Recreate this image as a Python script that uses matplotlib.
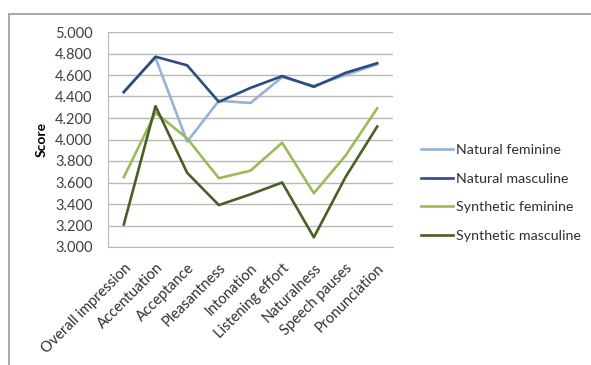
import matplotlib.pyplot as plt
from matplotlib.patches import Rectangle

categories = ['Overall impression', 'Accentuation', 'Acceptance', 'Pleasantness',
              'Intonation', 'Listening effort', 'Naturalness', 'Speech pauses',
              'Pronunciation']
natural_fem = [4.45, 4.76, 3.98, 4.36, 4.34, 4.58, 4.50, 4.60, 4.70]
natural_masc = [4.44, 4.77, 4.69, 4.35, 4.48, 4.59, 4.49, 4.62, 4.71]
synth_fem = [3.65, 4.25, 4.01, 3.64, 3.71, 3.97, 3.50, 3.85, 4.29]
synth_masc = [3.21, 4.31, 3.69, 3.39, 3.49, 3.60, 3.09, 3.65, 4.12]
yticks = [3.0, 3.2, 3.4, 3.6, 3.8, 4.0, 4.2, 4.4, 4.6, 4.8, 5.0]

plt.rcParams['font.family'] = ['Lato', 'DejaVu Sans']

fig = plt.figure(figsize=(5.91, 3.65), dpi=100)
# outer chart frame (cropped at right/bottom)
fig.patches.append(Rectangle((9 / 591, -0.1), 1.2, 1 - 14 / 365 + 0.1,
                             transform=fig.transFigure, fill=False,
                             edgecolor='#9a9a9a', linewidth=1.2))

ax = fig.add_axes([108 / 591, 1 - 247 / 365, 285 / 591, 215 / 365])
x = list(range(len(categories)))
ax.plot(x, natural_fem, color='#95B3D7', lw=1.9, label='Natural feminine')
ax.plot(x, natural_masc, color='#2B4C7E', lw=1.9, label='Natural masculine')
ax.plot(x, synth_fem, color='#9BBB59', lw=1.9, label='Synthetic feminine')
ax.plot(x, synth_masc, color='#4A5E27', lw=1.9, label='Synthetic masculine')

ax.set_xlim(-0.5, len(categories) - 0.5)
ax.set_ylim(3.0, 5.0)
ax.set_yticks(yticks)
ax.set_yticklabels(['%.3f' % v for v in yticks], fontsize=10.5, color='#404040')
ax.set_xticks(x)
ax.set_xticklabels(categories, rotation=45, ha='right', rotation_mode='anchor',
                   fontsize=10.5, color='#303030')
ax.tick_params(length=0)
ax.tick_params(axis='x', pad=10)
ax.tick_params(axis='y', pad=11)
ax.grid(axis='y', color='#b8b8b8', lw=1)
ax.set_axisbelow(True)
for s in ['top', 'right']:
    ax.spines[s].set_visible(False)
ax.spines['bottom'].set_color('#b8b8b8')
ax.spines['left'].set_color('#b8b8b8')
ax.set_ylabel('Score', fontsize=10, fontweight='bold', labelpad=5)

ax.legend(loc='center left', bbox_to_anchor=(408 / 591, 1 - 193 / 365),
          bbox_transform=fig.transFigure, frameon=False, fontsize=10.3,
          handlelength=2.25, handletextpad=0.2, labelspacing=1.15,
          labelcolor='#303030')

fig.savefig('out.png', dpi=100)
